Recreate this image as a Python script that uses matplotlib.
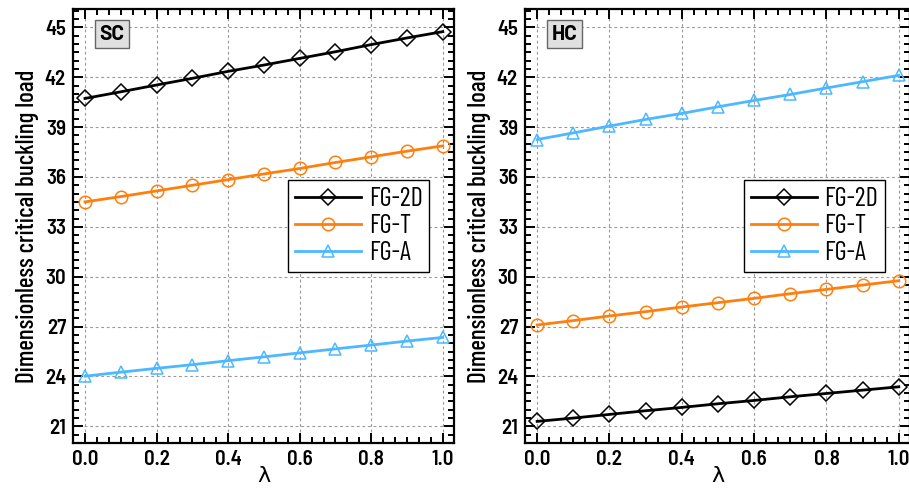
import matplotlib
matplotlib.use("Agg")
import matplotlib.pyplot as plt
from matplotlib.ticker import AutoMinorLocator

plt.rcParams['font.family'] = ['Barlow Semi Condensed', 'DejaVu Sans']

lam = [0.0, 0.1, 0.2, 0.3, 0.4, 0.5, 0.6, 0.7, 0.8, 0.9, 1.0]

# SC boundary condition
sc_2d = [40.72, 41.12, 41.53, 41.93, 42.35, 42.73, 43.13, 43.53, 43.96, 44.36, 44.74]
sc_t = [34.50, 34.82, 35.16, 35.50, 35.84, 36.18, 36.51, 36.87, 37.21, 37.55, 37.87]
sc_a = [24.02, 24.26, 24.49, 24.71, 24.95, 25.18, 25.42, 25.66, 25.89, 26.13, 26.35]

# HC boundary condition
hc_2d = [21.30, 21.50, 21.72, 21.94, 22.14, 22.36, 22.56, 22.78, 22.98, 23.18, 23.38]
hc_t = [27.10, 27.36, 27.64, 27.90, 28.18, 28.44, 28.70, 28.98, 29.24, 29.50, 29.76]
hc_a = [38.25, 38.65, 39.06, 39.46, 39.82, 40.22, 40.60, 40.96, 41.35, 41.73, 42.11]

labels = ["FG-2D", "FG-T", "FG-A"]
colors = ["black", "#ff7f0e", "#4db8ff"]
markers = ["D", "o", "^"]
msizes = [8, 9, 9]
yticks = [21, 24, 27, 30, 33, 36, 39, 42, 45]
xticks = [0.0, 0.2, 0.4, 0.6, 0.8, 1.0]

fig = plt.figure(figsize=(9.09, 4.90), dpi=100)
ax1 = fig.add_axes([0.0803, 0.0959, 0.419, 0.8857])
ax2 = fig.add_axes([0.5776, 0.0959, 0.4235, 0.8857])


def draw_panel(ax, series, tag):
    for ys, lab, c, m, ms in zip(series, labels, colors, markers, msizes):
        ax.plot(lam, ys, color=c, lw=2, marker=m, markersize=ms,
                markerfacecolor="none", markeredgecolor=c, markeredgewidth=1.1,
                label=lab)
    ax.set_xlim(-0.0335, 1.031)
    ax.set_ylim(20, 46.1)
    ax.set_xticks(xticks)
    ax.set_yticks(yticks)
    ax.xaxis.set_minor_locator(AutoMinorLocator(6))
    ax.yaxis.set_minor_locator(AutoMinorLocator(6))
    ax.tick_params(which="both", direction="in", top=True, right=True, width=1.4)
    ax.tick_params(which="major", length=7, labelsize=15, pad=5)
    ax.tick_params(which="minor", length=4)
    for lbl in ax.get_xticklabels() + ax.get_yticklabels():
        lbl.set_fontweight("semibold")
    for sp in ax.spines.values():
        sp.set_linewidth(1.6)
    ax.grid(True, which="major", linestyle=(0, (2.5, 2.5)), color="#999999", lw=0.8)
    ax.set_xlabel("λ", fontsize=16, labelpad=-2, family="DejaVu Sans")
    ax.set_ylabel("Dimensionless critical buckling load", fontsize=18, labelpad=4,
                  family=["Barlow Condensed", "DejaVu Sans"], fontweight="medium")
    ax.text(0.103, 0.942, tag, transform=ax.transAxes, fontsize=15, fontweight="bold",
            family=["Barlow", "DejaVu Sans"], va="center", ha="center",
            bbox=dict(boxstyle="square,pad=0.22", facecolor="#e0e0e0", edgecolor="#666666", lw=1))
    leg = ax.legend(loc="center right", bbox_to_anchor=(0.935, 0.50),
                    prop={"family": ["Barlow Condensed", "DejaVu Sans"], "size": 19},
                    frameon=True, fancybox=False, edgecolor="black", framealpha=1,
                    handlelength=2.5, handletextpad=0.3, borderpad=0.25, labelspacing=0.12,
                    borderaxespad=0)
    leg.get_frame().set_linewidth(1.0)


draw_panel(ax1, [sc_2d, sc_t, sc_a], "SC")
draw_panel(ax2, [hc_2d, hc_t, hc_a], "HC")

fig.savefig("out.png", dpi=100)
